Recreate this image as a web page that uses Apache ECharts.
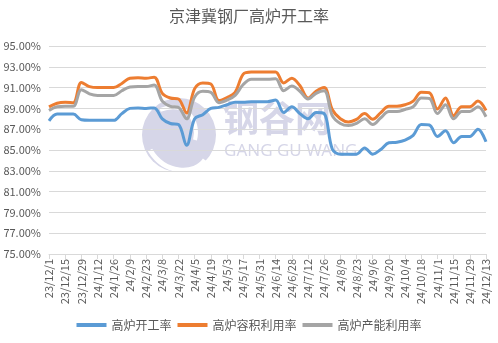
<!DOCTYPE html>
<html>
<head>
<meta charset="utf-8">
<script src="https://cdn.jsdelivr.net/npm/echarts@6/dist/echarts.min.js"></script>
<style>
  html, body { margin: 0; padding: 0; background: #fff; }
  #chart { width: 498px; height: 343px; }
</style>
</head>
<body>
<div id="chart"></div>
<script>
// Weekly survey dates (Fridays)
const dates = [
  '23/12/1','23/12/8','23/12/15','23/12/22','23/12/29',
  '24/1/5','24/1/12','24/1/19','24/1/26',
  '24/2/2','24/2/9','24/2/16','24/2/23',
  '24/3/1','24/3/8','24/3/15','24/3/22','24/3/29',
  '24/4/5','24/4/12','24/4/19','24/4/26',
  '24/5/3','24/5/10','24/5/17','24/5/24','24/5/31',
  '24/6/7','24/6/14','24/6/21','24/6/28',
  '24/7/5','24/7/12','24/7/19','24/7/26',
  '24/8/2','24/8/9','24/8/16','24/8/23','24/8/30',
  '24/9/6','24/9/13','24/9/20','24/9/27',
  '24/10/4','24/10/11','24/10/18','24/10/25',
  '24/11/1','24/11/8','24/11/15','24/11/22','24/11/29',
  '24/12/6','24/12/13'
];

// 高炉开工率 (%)
const openRate = [
  87.8, 88.45, 88.45, 88.45, 87.9, 87.85, 87.85, 87.85, 87.85, 88.5,
  89.0, 89.05, 89.0, 89.05, 88.0, 87.55, 87.45, 85.45, 88.0, 88.4,
  89.0, 89.1, 89.35, 89.6, 89.6, 89.65, 89.65, 89.65, 89.8, 88.6,
  89.15, 88.5, 88.0, 88.6, 88.5, 85.1, 84.6, 84.6, 84.6, 85.2,
  84.6, 85.05, 85.7, 85.75, 85.95, 86.4, 87.45, 87.4, 86.3, 86.85,
  85.7, 86.3, 86.3, 87.0, 85.8
];

// 高炉容积利用率 (%)
const volumeRate = [
  89.15, 89.5, 89.6, 89.55, 91.5, 91.1, 91.0, 91.0, 91.0, 91.4,
  91.9, 91.95, 91.9, 92.0, 90.45, 90.0, 89.9, 88.55, 90.9, 91.45,
  91.35, 89.75, 90.05, 90.55, 92.3, 92.5, 92.5, 92.5, 92.5, 91.45,
  91.9, 91.2, 90.0, 90.65, 91.0, 88.9, 88.0, 87.7, 87.95, 88.5,
  87.95, 88.6, 89.2, 89.2, 89.35, 89.7, 90.55, 90.5, 88.95, 90.0,
  88.3, 89.15, 89.15, 89.7, 88.8
];

// 高炉产能利用率 (%)
const capacityRate = [
  88.8, 89.15, 89.2, 89.2, 90.8, 90.4, 90.25, 90.25, 90.25, 90.7,
  91.05, 91.1, 91.1, 91.25, 89.7, 89.2, 89.1, 88.0, 90.1, 90.65,
  90.55, 89.55, 89.8, 90.25, 91.3, 91.8, 91.8, 91.8, 91.85, 90.7,
  91.15, 90.65, 89.9, 90.45, 90.7, 88.3, 87.55, 87.35, 87.55, 88.0,
  87.45, 88.1, 88.7, 88.7, 88.9, 89.15, 90.0, 89.95, 88.5, 89.35,
  88.0, 88.7, 88.7, 89.15, 88.2
];

const yMin = 75, yMax = 95, yStep = 2;

const font = '"Noto Sans CJK SC", "Noto Sans", sans-serif';
const textColor = '#595959';
const mark = '#d6d6e8';

const chart = echarts.init(document.getElementById('chart'), null, { renderer: 'canvas' });

function lineSeries(name, data, color) {
  return {
    name: name,
    type: 'line',
    data: data,
    smooth: 0.35,
    showSymbol: false,
    symbol: 'none',
    lineStyle: { color: color, width: 3 },
    itemStyle: { color: color },
    z: 3
  };
}

chart.setOption({
  animation: false,
  textStyle: { fontFamily: font },
  title: {
    text: '京津冀钢厂高炉开工率',
    left: 'center',
    top: 3,
    textStyle: { fontSize: 16, fontWeight: 'normal', color: textColor, fontFamily: font }
  },
  graphic: [
    // faint site logo behind the plot
    {
      type: 'circle', shape: { cx: 179, cy: 135, r: 37 },
      style: { fill: mark }, z: 0, silent: true
    },
    {
      type: 'bezierCurve',
      shape: { x1: 150, y1: 150, x2: 205, y2: 160, cpx1: 165, cpy1: 175, cpx2: 195, cpy2: 175 },
      style: { stroke: '#fff', lineWidth: 5, fill: null }, z: 0, silent: true
    },
    {
      type: 'bezierCurve',
      shape: { x1: 160, y1: 110, x2: 195, y2: 140, cpx1: 185, cpy1: 100, cpx2: 200, cpy2: 120 },
      style: { stroke: '#fff', lineWidth: 4, fill: null }, z: 0, silent: true
    },
    {
      type: 'text', left: 223, top: 100, z: 0, silent: true,
      style: { text: '钢谷网', fill: mark, font: 'bold 36px "Noto Sans CJK SC"' }
    },
    {
      type: 'text', left: 224, top: 143, z: 0, silent: true,
      style: { text: 'GANG GU WANG', fill: mark, font: '17px "Noto Sans", sans-serif' }
    }
  ],
  legend: {
    bottom: 7,
    left: 'center',
    itemGap: 6,
    itemWidth: 30,
    itemHeight: 4,
    icon: 'rect',
    textStyle: { color: textColor, fontSize: 12, fontFamily: font },
    data: ['高炉开工率', '高炉容积利用率', '高炉产能利用率']
  },
  grid: { left: 49, right: 12, top: 46, bottom: 89, containLabel: false },
  xAxis: {
    type: 'category',
    data: dates,
    boundaryGap: false,
    axisLine: { lineStyle: { color: '#d9d9d9', width: 1 } },
    axisTick: { show: true, interval: 1, length: 5, lineStyle: { color: '#d9d9d9' } },
    axisLabel: {
      interval: 1, rotate: 90, color: textColor, fontSize: 11, margin: 5, fontFamily: font
    },
    splitLine: { show: false }
  },
  yAxis: {
    type: 'value',
    min: yMin, max: yMax, interval: yStep,
    axisLine: { show: false },
    axisTick: { show: false },
    axisLabel: {
      color: textColor, fontSize: 11, margin: 8, fontFamily: font,
      formatter: v => v.toFixed(2) + '%'
    },
    splitLine: { lineStyle: { color: '#d9d9d9', width: 1 } }
  },
  series: [
    lineSeries('高炉开工率', openRate, '#5b9bd5'),
    lineSeries('高炉容积利用率', volumeRate, '#ed7d31'),
    lineSeries('高炉产能利用率', capacityRate, '#a5a5a5')
  ]
});
</script>
</body>
</html>
